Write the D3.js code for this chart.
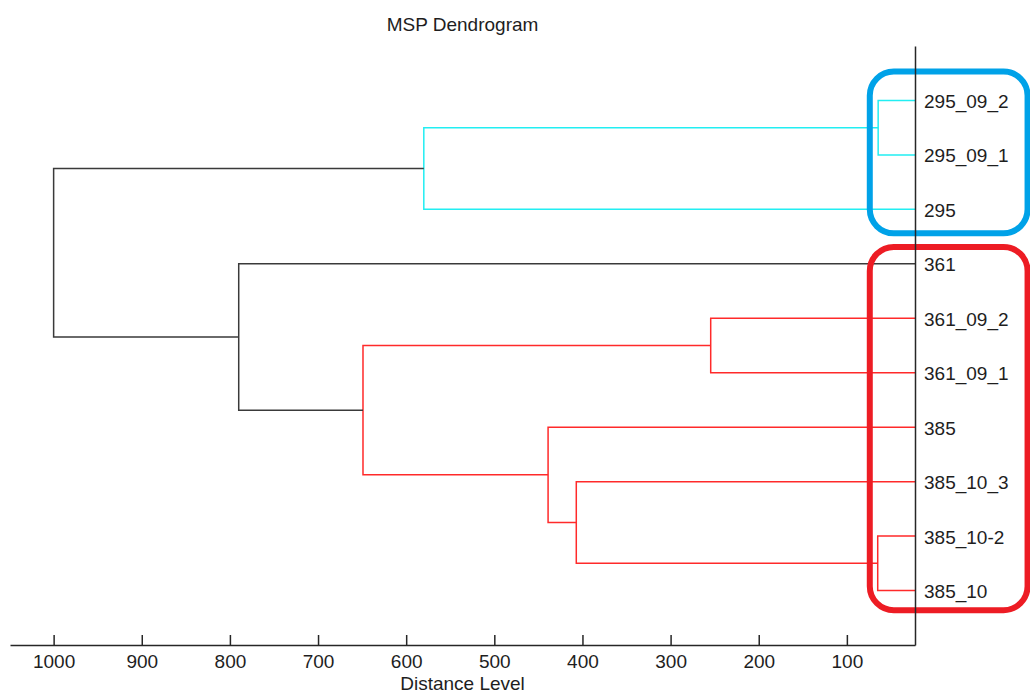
<!DOCTYPE html>
<html>
<head>
<meta charset="utf-8">
<script src="https://cdn.jsdelivr.net/npm/d3@7"></script>
<style>
  body { margin: 0; background: #fff; }
  svg { display: block; font-family: "Liberation Sans", Arial, sans-serif; }
  .axis path, .axis line { stroke: #262626; stroke-width: 1.5; }
  .axis text { fill: #1e1e1e; font-size: 19px; }
  .link { fill: none; stroke-width: 1.5; }
</style>
</head>
<body>
<div id="chart"></div>
<script>
// leaf order, top to bottom
const leaves = ["295_09_2", "295_09_1", "295", "361", "361_09_2", "361_09_1", "385", "385_10_3", "385_10-2", "385_10"];

// linkage rows: [left, right, distance, group]  (ids >= leaves.length are clusters)
const merges = [
  ["295_09_2", "295_09_1", 64.5, "blue"],
  ["385_10-2", "385_10", 65, "red"],
  ["361_09_2", "361_09_1", 254.5, "red"],
  ["385_10_3", 11, 407, "red"],
  ["385", 13, 439, "red"],
  [10, "295", 580, "blue"],
  [12, 14, 649, "red"],
  ["361", 16, 790, "black"],
  [15, 17, 1000, "black"]
];

const distanceTicks = [1000, 900, 800, 700, 600, 500, 400, 300, 200, 100];

// highlight boxes drawn over the figure: [leafFrom, leafTo (in leaf units), distFrom, distTo, colour]
const highlights = [
  [0.47, 3.44, 74, -105, "#00a2e8"],
  [3.69, 10.36, 74, -105, "#ed1c24"]
];

const lineColor = { blue: "#22eef2", red: "#ff2a2a", black: "#3a3a3a" };

const W = 1030, H = 695;
const svg = d3.select("#chart").append("svg")
    .attr("width", W)
    .attr("height", H);

svg.append("rect").attr("width", W).attr("height", H).attr("fill", "#fff");

// scales: distance runs right-to-left, leaves top-to-bottom
const x = d3.scaleLinear().domain([1049.5, 22.7]).range([10, 915]);
const y = d3.scaleLinear().domain([0, leaves.length + 1]).range([46, 645]);

// position of every node (leaf or cluster)
const nodeY = {}, nodeX = {};
leaves.forEach((name, i) => { nodeY[name] = i + 1; nodeX[name] = 22.7; });
const key = n => (typeof n === "number" ? "c" + n : n);

merges.forEach((m, i) => {
    const id = "c" + (leaves.length + i);
    const a = key(m[0]), b = key(m[1]);
    nodeY[id] = (nodeY[a] + nodeY[b]) / 2;
    nodeX[id] = m[2];
});

// --- tree links ---
const links = svg.append("g");
merges.forEach(m => {
    const a = key(m[0]), b = key(m[1]);
    const h = m[2];
    const path = d3.path();
    path.moveTo(x(nodeX[a]), y(nodeY[a]));
    path.lineTo(x(h), y(nodeY[a]));
    path.lineTo(x(h), y(nodeY[b]));
    path.lineTo(x(nodeX[b]), y(nodeY[b]));
    links.append("path")
        .attr("class", "link")
        .attr("d", path.toString())
        .attr("stroke", lineColor[m[3]]);
});

// --- highlight boxes ---
svg.append("g").selectAll("rect")
    .data(highlights)
    .enter().append("rect")
    .attr("x", d => x(d[2]))
    .attr("y", d => y(d[0]))
    .attr("width", d => x(d[3]) - x(d[2]))
    .attr("height", d => y(d[1]) - y(d[0]))
    .attr("rx", 24)
    .attr("fill", "none")
    .attr("stroke", d => d[4])
    .attr("stroke-width", 6);

// --- axes ---
svg.append("g")
    .attr("class", "axis")
    .attr("transform", `translate(0,${y.range()[1]})`)
    .call(d3.axisBottom(x).tickValues(distanceTicks).tickFormat(d3.format("d"))
        .tickSizeInner(-10).tickSizeOuter(0).tickPadding(10));

svg.append("g")
    .attr("class", "axis")
    .attr("transform", `translate(${x.range()[1]},0)`)
    .call(d3.axisRight(y).tickValues(leaves.map((d, i) => i + 1))
        .tickFormat(i => leaves[i - 1]).tickSize(0).tickPadding(9))
    .selectAll("text").attr("dy", "0.37em");

svg.append("text")
    .attr("x", (x.range()[0] + x.range()[1]) / 2)
    .attr("y", 31)
    .attr("text-anchor", "middle")
    .attr("fill", "#1e1e1e")
    .style("font-size", "19px")
    .text("MSP Dendrogram");

svg.append("text")
    .attr("x", (x.range()[0] + x.range()[1]) / 2)
    .attr("y", 690)
    .attr("text-anchor", "middle")
    .attr("fill", "#1e1e1e")
    .style("font-size", "19px")
    .text("Distance Level");
</script>
</body>
</html>
